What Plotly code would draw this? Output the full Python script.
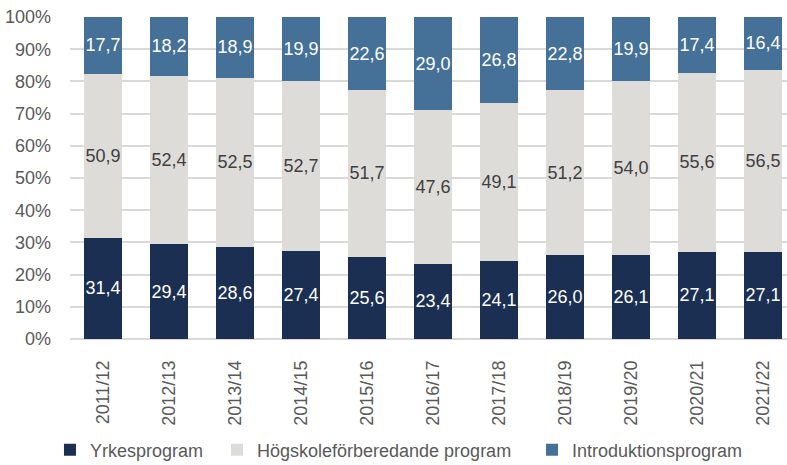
import plotly.graph_objects as go

# Läsår
years = ["2011/12", "2012/13", "2013/14", "2014/15", "2015/16", "2016/17",
         "2017/18", "2018/19", "2019/20", "2020/21", "2021/22"]

# Andel elever per programtyp (procent)
yrkes = [31.4, 29.4, 28.6, 27.4, 25.6, 23.4, 24.1, 26.0, 26.1, 27.1, 27.1]
hogskole = [50.9, 52.4, 52.5, 52.7, 51.7, 47.6, 49.1, 51.2, 54.0, 55.6, 56.5]
intro = [17.7, 18.2, 18.9, 19.9, 22.6, 29.0, 26.8, 22.8, 19.9, 17.4, 16.4]

font_family = "Arial, Liberation Sans, sans-serif"
grey_text = "#595959"

series = [
    ("Yrkesprogram", yrkes, "#1B2F52", "white", "legend"),
    ("Högskoleförberedande program", hogskole, "#DEDCD9", "#404040", "legend2"),
    ("Introduktionsprogram", intro, "#457198", "white", "legend3"),
]

fig = go.Figure()
for name, vals, color, txtcolor, leg in series:
    fig.add_trace(go.Bar(
        name=name,
        x=years,
        y=vals,
        legend=leg,
        showlegend=True,
        marker=dict(color=color, line=dict(width=0)),
        texttemplate="%{y:.1f}",
        textposition="inside",
        insidetextanchor="middle",
        textangle=0,
        constraintext="none",
        textfont=dict(size=18, color=txtcolor, family=font_family),
    ))

# en legend per serie så att positionerna kan styras var för sig
legend_style = dict(
    orientation="h",
    xref="container",
    yref="container",
    y=0.032,
    xanchor="left",
    yanchor="middle",
    font=dict(size=18, color=grey_text, family=font_family),
    itemwidth=30,
    bgcolor="rgba(0,0,0,0)",
)

fig.update_layout(
    width=787,
    height=465,
    barmode="stack",
    bargap=0.42,
    separators=", ",
    showlegend=True,
    plot_bgcolor="white",
    paper_bgcolor="white",
    margin=dict(l=70, r=0, t=17, b=126),
    font=dict(family=font_family, size=18, color=grey_text),
    legend=dict(x=0.0635, **legend_style),
    legend2=dict(x=0.2757, **legend_style),
    legend3=dict(x=0.676, **legend_style),
)

fig.update_xaxes(
    type="category",
    range=[-0.5, 10.364],
    tickangle=-90,
    showgrid=False,
    showline=False,
    ticks="",
    automargin=False,
    ticklabelstandoff=17,
    tickfont=dict(size=18, color=grey_text),
)
fig.update_yaxes(
    range=[0, 100],
    dtick=10,
    ticksuffix="%",
    showgrid=True,
    gridcolor="#D9D9D9",
    gridwidth=1.5,
    zeroline=True,
    zerolinecolor="#D9D9D9",
    zerolinewidth=1.5,
    ticks="",
    automargin=False,
    ticklabeloverflow="allow",
    ticklabelstandoff=18,
    tickfont=dict(size=18, color=grey_text),
)

# ta bort sidans standardmarginal så att figuren fyller fönstret
fig.write_html("out.html", config={"displayModeBar": False},
               post_script="document.body.style.margin = '0';")
